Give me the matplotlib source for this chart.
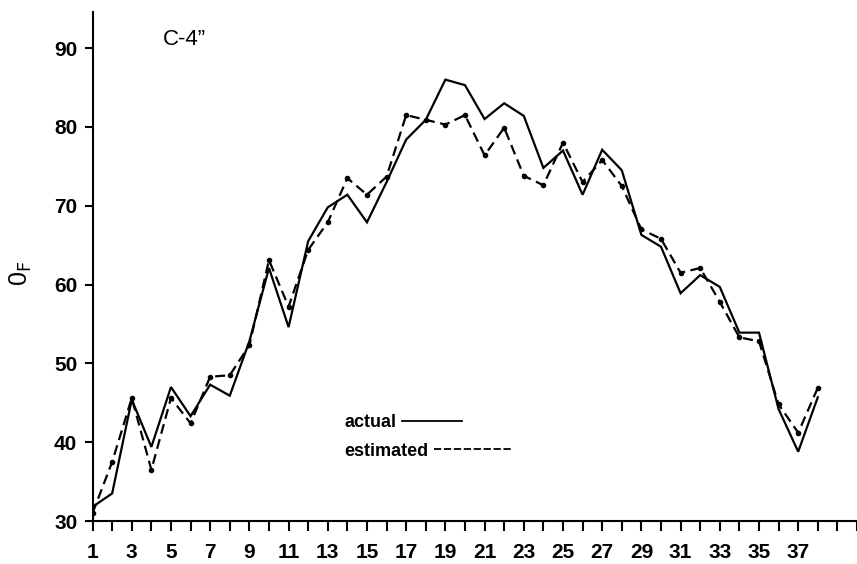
import numpy as np
import matplotlib
matplotlib.use("Agg")
import matplotlib.pyplot as plt
from matplotlib.lines import Line2D
from matplotlib.ticker import MultipleLocator

plt.rcParams['font.family'] = ['Liberation Sans', 'DejaVu Sans']

# data
days = np.arange(1, 39)
actual = [31.8, 33.5, 45.4, 39.4, 47.0, 43.3, 47.3, 45.9, 52.8, 62.1,
          54.6, 65.5, 69.8, 71.4, 67.9, 73.0, 78.4, 80.9, 86.0, 85.3,
          81.0, 83.0, 81.4, 74.8, 77.0, 71.4, 77.1, 74.5, 66.3, 64.8,
          58.9, 61.2, 59.7, 53.9, 53.9, 44.2, 38.8, 45.7]
estimated = [31.0, 37.5, 45.6, 36.5, 45.6, 42.4, 48.3, 48.5, 52.3, 63.1,
             57.2, 64.4, 67.9, 73.5, 71.4, 73.7, 81.5, 80.9, 80.3, 81.5,
             76.4, 79.9, 73.8, 72.6, 78.0, 73.0, 75.8, 72.5, 67.0, 65.8,
             61.5, 62.1, 57.8, 53.3, 52.8, 44.8, 41.2, 46.9]
xlabels = [str(d) for d in range(1, 38, 2)]
yticks = [30, 40, 50, 60, 70, 80, 90]

fig = plt.figure(figsize=(8.57, 5.64), dpi=100)
ax = fig.add_axes([0.108, 0.0762, 0.892, 0.9028])

ax.plot(days, actual, color='black', lw=1.6, solid_joinstyle='miter')
ax.plot(days, estimated, color='black', lw=1.6, linestyle=(0, (4.5, 2.5)),
        marker='o', markersize=3)

ax.set_xlim(1, 40)
ax.set_ylim(30, 94.6)
for s in ['top', 'right']:
    ax.spines[s].set_visible(False)
ax.spines['left'].set_linewidth(1.5)
ax.spines['bottom'].set_linewidth(1.5)

ax.set_xticks(range(1, 38, 2))
ax.set_xticklabels(xlabels)
ax.xaxis.set_minor_locator(MultipleLocator(1))
ax.set_yticks(yticks)
ax.tick_params(axis='x', which='both', direction='out', length=7, width=1.5,
               pad=9, labelsize=15)
ax.tick_params(axis='y', direction='out', length=6, width=1.5, pad=5,
               labelsize=15)
for lab in ax.get_xticklabels() + ax.get_yticklabels():
    lab.set_fontweight('bold')

ax.text(0.12, 0.945, 'C-4\u201d', transform=ax.transAxes, fontsize=16,
        ha='center', va='center')
fig.text(0.024, 0.515, r'0$_{\mathsf{F}}$', rotation=90, fontsize=18,
         ha='center', va='center')

# legend: label first, then line sample
h1 = Line2D([], [], color='black', lw=1.3)
h2 = Line2D([], [], color='black', lw=1.3, linestyle=(0, (4, 1.5)))
leg1 = ax.legend([h1], ['actual'], loc='center left', markerfirst=False,
                 frameon=False, handlelength=3.3, handletextpad=0.3,
                 bbox_to_anchor=(0.318, 0.193), borderpad=0,
                 prop={'size': 13, 'weight': 'bold'})
ax.add_artist(leg1)
ax.legend([h2], ['estimated'], loc='center left', markerfirst=False,
          frameon=False, handlelength=4.3, handletextpad=0.3,
          bbox_to_anchor=(0.318, 0.1375), borderpad=0,
          prop={'size': 13, 'weight': 'bold'})

fig.savefig('out.png', dpi=100)
